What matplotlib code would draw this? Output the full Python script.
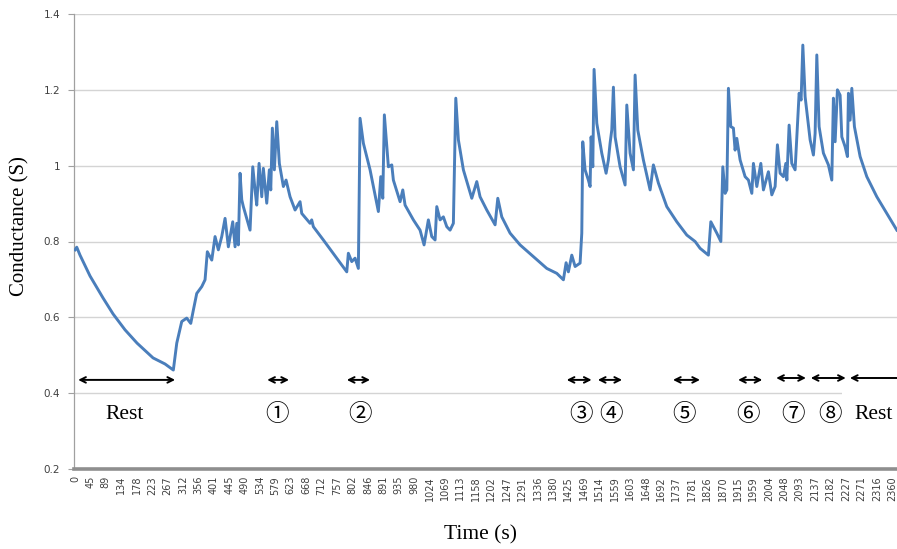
import matplotlib
matplotlib.use("Agg")
import matplotlib.pyplot as plt
from matplotlib.patches import Rectangle

# ---- data ----
time_s = [0, 4.9, 14.4, 43.3, 80.9, 109.8, 144.4, 179.1, 225.3, 259.9, 283.9, 293.8, 308.2, 322.6, 334.2,
          341.7, 351.5, 366, 375.5, 382.1, 394.9, 404.4, 413.9, 423.7, 433.3, 442.8, 455.5,
          462.2, 467.1, 471.7, 476.6, 481.5, 486.1, 505.5, 513.3, 519.9, 524.8, 531.5, 539.3,
          543.9, 553.7, 561.2, 565.3, 569.9, 575.7, 582.6, 590.1, 601.7, 609.5, 621, 635.5,
          649.9, 654.8, 678.8, 683.5, 688.3, 717.2, 755.9, 784.8, 789.4, 799.2, 808.8, 818.3, 823.2,
          832.8, 852.1, 876.1, 883, 888.8, 893.4, 905, 914.8, 919.4, 938.8, 946.6, 953.2,
          977.2, 996.5, 1008.1, 1020.5, 1030.3, 1039.9, 1044.8, 1054.3, 1063.8, 1073.7,
          1083.2, 1092.7, 1099.7, 1107.2, 1121.6, 1145.9, 1160.3, 1169.8, 1189.2, 1213.2,
          1221, 1232.5, 1256.5, 1285.4, 1323.8, 1362.5, 1391.4, 1410.5, 1418.3, 1424.9,
          1434.7, 1444.3, 1458.7, 1463.6, 1466.4, 1473.1, 1482.6, 1487.6, 1490.5, 1495.4,
          1499.1, 1506.9, 1521.3, 1533.8, 1540.4, 1545.3, 1550.2, 1554.9, 1559.8, 1574.2,
          1588.7, 1593.6, 1603.1, 1612.7, 1617.6, 1625.3, 1641.5, 1660.9, 1670.4, 1684.9,
          1709.1, 1738, 1766.9, 1790.9, 1805.3, 1829.3, 1836.3, 1853.6, 1865.2, 1870.9,
          1877.6, 1882.5, 1887.1, 1894, 1901.5, 1906.4, 1911.3, 1920.9, 1935.3, 1944.9,
          1954.7, 1959.3, 1969.1, 1980.7, 1988.2, 2002.6, 2012.4, 2022, 2028.6, 2036.4,
          2046, 2052.9, 2055.8, 2062.4, 2070.1, 2079.7, 2091.3, 2097, 2102, 2108.6, 2123.1,
          2132.6, 2137.5, 2142.4, 2149, 2161.5, 2175.9, 2185.7, 2190.3, 2195.3, 2201.9,
          2209.7, 2214.6, 2224.1, 2230.8, 2233.7, 2238.6, 2243.5, 2251, 2267.5, 2286.8,
          2315.7, 2344.6, 2373.5]
conductance = [0.778, 0.785, 0.764, 0.709, 0.651, 0.609, 0.567, 0.532, 0.493, 0.477, 0.461, 0.532, 0.589,
               0.598, 0.584, 0.619, 0.663, 0.681, 0.699, 0.773, 0.751, 0.813, 0.778, 0.813,
               0.861, 0.786, 0.852, 0.786, 0.848, 0.791, 0.980, 0.910, 0.892, 0.830, 0.997,
               0.936, 0.896, 1.006, 0.918, 0.993, 0.901, 0.989, 0.936, 1.099, 0.989, 1.116,
               1.006, 0.945, 0.962, 0.918, 0.883, 0.905, 0.874, 0.848, 0.857, 0.839, 0.804, 0.756,
               0.720, 0.769, 0.747, 0.756, 0.729, 1.125, 1.059, 0.989, 0.879, 0.971, 0.914,
               1.134, 0.997, 1.002, 0.962, 0.905, 0.936, 0.896, 0.857, 0.830, 0.791, 0.857,
               0.813, 0.804, 0.892, 0.857, 0.865, 0.839, 0.830, 0.848, 1.178, 1.068, 0.989,
               0.914, 0.958, 0.918, 0.883, 0.844, 0.914, 0.865, 0.822, 0.791, 0.760, 0.729,
               0.716, 0.699, 0.744, 0.720, 0.764, 0.734, 0.743, 0.822, 1.063, 0.989, 0.962,
               0.945, 1.076, 0.997, 1.254, 1.112, 1.033, 0.980, 1.015, 1.059, 1.094, 1.207,
               1.076, 0.997, 0.949, 1.160, 1.033, 0.989, 1.239, 1.094, 1.015, 0.936, 1.002,
               0.954, 0.892, 0.852, 0.817, 0.800, 0.782, 0.764, 0.852, 0.822, 0.800, 0.997,
               0.927, 0.936, 1.204, 1.103, 1.099, 1.041, 1.072, 1.015, 0.971, 0.962, 0.927,
               1.006, 0.945, 1.006, 0.936, 0.984, 0.923, 0.945, 1.055, 0.980, 0.971, 1.006,
               0.962, 1.107, 1.006, 0.989, 1.191, 1.173, 1.318, 1.182, 1.068, 1.028, 1.085,
               1.292, 1.103, 1.033, 1.002, 0.962, 1.178, 1.063, 1.200, 1.186, 1.076, 1.050,
               1.024, 1.191, 1.120, 1.204, 1.103, 1.024, 0.971, 0.918, 0.874, 0.830]

x_tick_labels = ["0", "45", "89", "134", "178", "223", "267", "312", "356", "401", "445",
                 "490", "534", "579", "623", "668", "712", "757", "802", "846", "891", "935",
                 "980", "1024", "1069", "1113", "1158", "1202", "1247", "1291", "1336", "1380",
                 "1425", "1469", "1514", "1559", "1603", "1648", "1692", "1737", "1781", "1826",
                 "1870", "1915", "1959", "2004", "2048", "2093", "2137", "2182", "2227", "2271",
                 "2316", "2360"]
y_ticks = [0.2, 0.4, 0.6, 0.8, 1.0, 1.2, 1.4]
y_tick_labels = ["0.2", "0.4", "0.6", "0.8", "1", "1.2", "1.4"]

# interval annotations: (label, start time, end time, label centre time)
interval_labels = ["Rest", "①", "②", "③", "④", "⑤", "⑥", "⑦", "⑧", "Rest"]
interval_start = [9, 555, 785, 1420, 1510, 1727, 1915, 2025, 2125, 2238]
interval_end = [289, 618, 852, 1492, 1580, 1805, 1985, 2111, 2226, 2420]
interval_text_t = [144, 583, 823, 1462, 1548, 1759, 1944, 2074, 2180, 2307]
interval_arrow_c = [0.435, 0.435, 0.435, 0.435, 0.435, 0.435, 0.435, 0.440, 0.440, 0.440]

# ---- figure ----
fig = plt.figure(figsize=(8.97, 5.49), dpi=100)
ax = fig.add_axes([74 / 897, 1 - 469 / 549, 1 - 74 / 897, (469 - 14) / 549])

ax.plot(time_s, conductance, color="#4A7EBB", lw=2.1, solid_joinstyle="round", zorder=3)

ax.set_xlim(-3, 2374)
ax.set_ylim(0.2, 1.4)
ax.set_yticks(y_ticks)
ax.set_yticklabels(y_tick_labels)
tick_pos = [float(v) for v in x_tick_labels]
ax.set_xticks(tick_pos)
ax.set_xticklabels(x_tick_labels, rotation=90)

ax.grid(axis="y", color="#D4D4D4", lw=1.0, zorder=0)
ax.set_axisbelow(True)
for s in ["top", "right"]:
    ax.spines[s].set_visible(False)
ax.spines["left"].set_color("#A0A0A0")
ax.spines["left"].set_linewidth(0.9)
ax.spines["bottom"].set_color("#8E8E8E")
ax.spines["bottom"].set_linewidth(2.6)

ax.tick_params(axis="y", length=4, width=0.8, color="#A0A0A0", labelsize=7.5,
               labelcolor="#404040", pad=6)
ax.tick_params(axis="x", length=0, labelsize=7, labelcolor="#404040", pad=5)

# white box behind the right-hand "Rest" label (covers gridline)
ax.add_patch(Rectangle((2215, 0.33), 200, 0.085, facecolor="white", edgecolor="none",
                       zorder=2, clip_on=False))

for lab, t0, t1, tt, ca in zip(interval_labels, interval_start, interval_end,
                               interval_text_t, interval_arrow_c):
    ax.annotate("", xy=(t0, ca), xytext=(t1, ca),
                arrowprops=dict(arrowstyle="<->", color="black", lw=1.4,
                                shrinkA=0, shrinkB=0, mutation_scale=10),
                annotation_clip=False, zorder=4)
    if lab == "Rest":
        ax.text(tt, 0.345, lab, ha="center", va="center", fontsize=15.5,
                family=["Liberation Serif", "DejaVu Serif"], zorder=5)
    else:
        ax.text(tt, 0.343, lab, ha="center", va="center", fontsize=17,
                family=["Noto Sans CJK JP", "DejaVu Sans"], zorder=5)

fig.text(20 / 897, 1 - 226 / 549, "Conductance (S)", rotation=90, ha="center",
         va="center", fontsize=15, family="Liberation Serif")
fig.text(480 / 897, 1 - 535 / 549, "Time (s)", ha="center", va="center",
         fontsize=15.5, family="Liberation Serif")

fig.savefig("out.png", dpi=100)
